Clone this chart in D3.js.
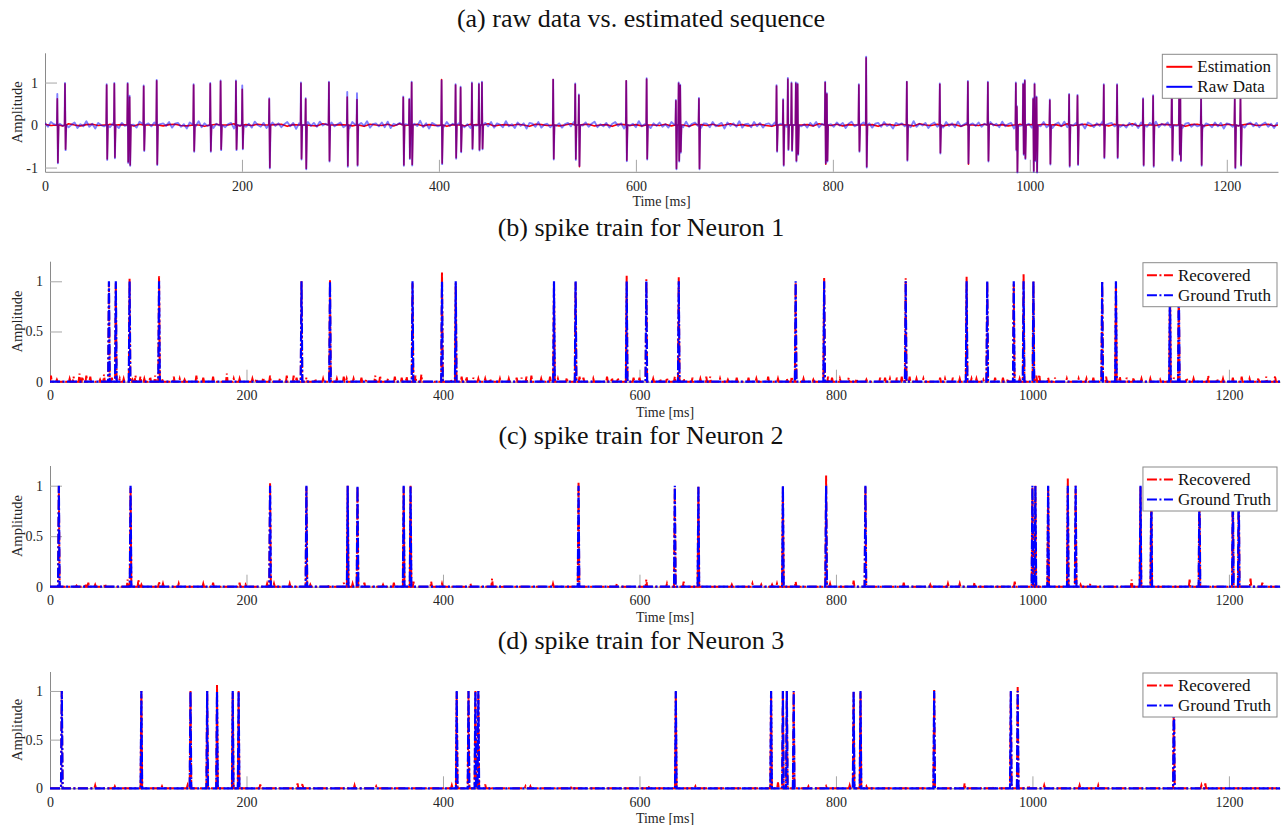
<!DOCTYPE html>
<html>
<head>
<meta charset="utf-8">
<script src="https://cdn.jsdelivr.net/npm/d3@7"></script>
<style>
  body { margin: 0; background: #ffffff; }
  svg text { font-family: "Liberation Serif", "Times New Roman", serif; fill: #262626; }
</style>
</head>
<body>
<svg id="chart" width="1281" height="825"></svg>
<script>
// ---------------- data ----------------
const timeTicks = [0, 200, 400, 600, 800, 1000, 1200];
const traceTicks = [-1, 0, 1];
const trainTicks = [0, 0.5, 1];
const timeSpanMs = [0, 1252];

// (a) spike events in the recorded trace: time [ms], positive peak, negative trough
const aSpikeTimes = [12.5,20.3,62.6,70.4,83.9,85.9,100.2,113.4,150.9,167.8,178.3,193.9,200.3,227.7,259.9,264.7,288.3,306.9,316.8,363.8,369.9,372.3,402.7,416.9,422,433.5,440.6,443.7,516,538.4,542.1,590.2,610.9,640.6,643.4,645,664,742.8,749.5,754.3,758,762.4,764.2,792.2,793.9,826.4,833.8,875.1,908.6,937.1,957.4,985.8,986.8,993.2,994.9,1003.4,1004.8,1006.8,1020.3,1039.9,1048.4,1075.1,1088.6,1115,1125.2,1144.2,1151.7,1152.8,1173.9,1208.1,1213.9];
const rawPeaks = [0.73,0.99,0.96,0.99,0.99,0.69,0.93,1.06,0.96,0.99,1.05,1.05,0.93,0.63,1.0,0.63,1.02,0.78,0.75,0.67,0.62,1.02,1.05,0.96,0.9,1.0,0.98,1.02,1.07,0.98,0.72,1.04,1.1,0.59,1.0,0.95,0.64,0.94,0.61,1.11,1.0,1.0,0.98,1.02,0.75,0.96,1.61,1.02,0.98,1.04,1.02,1.0,0.45,0.98,1.06,0.63,0.98,0.67,0.6,0.73,0.71,0.96,0.96,0.63,0.7,1.0,0.98,1.0,0.63,0.63,0.67];
const rawTroughs = [-0.90,-0.59,-0.82,-0.78,-0.89,-0.96,-0.61,-0.94,-0.63,-0.63,-0.59,-0.59,-0.57,-1.02,-0.81,-1.04,-0.86,-0.98,-0.96,-0.96,-0.80,-0.95,-0.92,-0.79,-0.64,-0.57,-0.60,-0.57,-0.81,-0.82,-0.96,-0.85,-0.81,-1.04,-0.86,-0.65,-1.04,-0.63,-0.96,-0.59,-0.61,-0.86,-0.70,-0.90,-0.86,-0.63,-1.00,-0.84,-0.67,-0.90,-0.86,-0.60,-1.12,-0.70,-0.80,-1.10,-0.85,-1.12,-0.93,-0.98,-0.94,-0.78,-0.78,-0.96,-0.98,-0.84,-0.70,-0.85,-0.96,-1.02,-0.96];
const estPeaks = [0.62,0.97,0.94,0.97,0.97,0.66,0.91,1.04,0.94,0.97,1.03,1.03,0.84,0.61,0.98,0.61,1.0,0.66,0.60,0.65,0.60,1.0,1.07,0.94,0.88,0.98,0.96,1.0,1.07,0.96,0.70,1.04,1.08,0.57,0.98,0.93,0.62,0.92,0.59,1.08,0.98,0.98,0.96,1.0,0.73,0.94,1.58,1.02,0.96,1.02,1.0,0.98,0.43,0.96,1.04,0.61,0.96,0.65,0.58,0.71,0.69,0.94,0.94,0.61,0.68,0.98,0.96,0.98,0.61,0.61,0.65];
const estTroughs = [-0.88,-0.57,-0.80,-0.76,-0.87,-0.94,-0.59,-0.92,-0.61,-0.61,-0.57,-0.57,-0.55,-1.0,-0.79,-1.02,-0.84,-0.96,-0.94,-0.94,-0.78,-0.93,-0.90,-0.77,-0.62,-0.55,-0.58,-0.55,-0.79,-0.80,-0.98,-0.83,-0.79,-1.02,-0.84,-0.63,-1.02,-0.61,-0.94,-0.57,-0.59,-0.84,-0.68,-0.92,-0.84,-0.61,-0.98,-0.82,-0.65,-0.92,-0.84,-0.58,-1.10,-0.68,-0.78,-1.08,-0.83,-1.10,-0.91,-0.96,-0.92,-0.76,-0.76,-0.94,-0.96,-0.82,-0.68,-0.83,-0.94,-1.0,-0.94];

// (a) background activity between spikes, one sample every rawStepMs / estStepMs
const rawStepMs = 3;
const rawNoise = [
  0.05,-0.04,0.07,0.02,-0.06,0.03,-0.02,0.08,-0.05,0.01, 0.06,-0.07,0.02,-0.03,0.09,-0.04,0.03,-0.08,0.05,0.00,
  -0.03,0.06,-0.05,0.04,0.02,-0.07,0.05,-0.02,0.07,-0.04, 0.01,-0.06,0.08,0.03,-0.05,0.04,-0.03,0.06,-0.09,0.02,
  0.04,-0.02,0.07,-0.06,0.03,0.05,-0.04,0.02,-0.08,0.06, 0.01,-0.03,0.09,-0.05,0.04,-0.02,0.06,-0.07,0.03,-0.01,
  0.07,-0.05,0.02,0.05,-0.08,0.04,-0.01,0.06,-0.04,0.03, -0.06,0.08,0.00,-0.04,0.05,-0.07,0.03,0.06,-0.02,0.04,
  -0.05,0.02,0.07,-0.03,0.05,-0.09,0.04,0.01,-0.06,0.07, -0.02,0.05,-0.04,0.08,-0.01,0.03,-0.07,0.06,-0.03,0.02,
  0.06,-0.05,0.03,-0.08,0.07,0.01,-0.04,0.05,-0.02,0.09, -0.06,0.02,0.04,-0.03,0.06,-0.05,0.08,-0.07,0.03,0.00,
  0.05,-0.04,0.02,0.07,-0.06,0.03,-0.02,0.10,-0.05,0.04, -0.08,0.05,0.01,-0.03,0.06,-0.04,0.07,-0.02,0.03,-0.06,
  0.04,0.08,-0.05,0.02,-0.07,0.06,-0.01,0.03,-0.04,0.05, -0.03,0.07,-0.06,0.04,0.01,-0.05,0.09,-0.03,0.02,-0.07,
  0.06,-0.02,0.04,-0.08,0.05,0.03,-0.04,0.07,-0.06,0.01, 0.03,-0.05,0.08,-0.02,0.04,-0.06,0.02,0.05,-0.03,0.07,
  -0.07,0.04,-0.01,0.06,-0.04,0.03,0.08,-0.05,0.02,-0.03, 0.05,-0.06,0.03,0.07,-0.02,0.04,-0.08,0.06,-0.01,0.03,
  -0.05,0.09,-0.03,0.02,0.05,-0.07,0.04,-0.02,0.06,-0.04, 0.02,-0.06,0.07,0.01,-0.03,0.05,-0.05,0.08,-0.04,0.03,
  0.06,-0.02,-0.07,0.04,0.03,-0.05,0.07,-0.03,0.01,0.05, -0.08,0.06,-0.02,0.04,-0.04,0.09,-0.06,0.02,0.03,-0.05,
  0.07,-0.03,0.05,-0.06,0.02,0.04,-0.02,0.06,-0.07,0.03, 0.01,-0.04,0.08,-0.05,0.03,0.06,-0.03,0.02,-0.06,0.05,
  -0.02,0.07,-0.05,0.03,-0.08,0.04,0.02,-0.04,0.06,-0.01, 0.05,-0.07,0.03,0.08,-0.03,0.01,-0.05,0.06,-0.02,0.04,
  -0.06,0.03,0.05,-0.04,0.07,-0.02,0.02,-0.08,0.05,0.01, 0.04,-0.03,0.06,-0.05,0.09,-0.04,0.03,-0.01,0.05,-0.07,
  0.02,0.06,-0.04,0.03,-0.06,0.07,-0.02,0.04,-0.05,0.08, -0.03,0.01,0.05,-0.07,0.04,-0.02,0.06,-0.04,0.03,-0.06,
  0.07,-0.01,0.03,-0.05,0.08,-0.03,0.02,0.05,-0.08,0.04, -0.02,0.06,-0.04,0.03,-0.06,0.05,0.01,-0.03,0.07,-0.05,
  0.04,-0.07,0.02,0.06,-0.03,0.08,-0.05,0.03,-0.01,0.05, -0.04,0.03,-0.08,0.06,0.02,-0.05,0.04,-0.02,0.09,-0.06,
  0.03,0.05,-0.03,0.07,-0.04,0.01,-0.06,0.05,-0.02,0.04, -0.07,0.06,0.02,-0.04,0.05,-0.03,0.08,-0.05,0.03,-0.01,
  0.06,-0.05,0.04,-0.02,0.07,-0.07,0.03,0.05,-0.04,0.02, -0.03,0.08,-0.06,0.04,0.01,-0.05,0.06,-0.03,0.05,-0.08,
  0.04,0.02,-0.04,0.07,-0.02,0.05,-0.06,0.03,0.06,-0.03, 0.05,-0.05,0.02,0.06,-0.04,0.03,-0.07,0.05,-0.01,0.04
];
const estStepMs = 6;
const estNoise = [
  0.02,-0.01,0.01,-0.02,0.03,0.00,-0.02,0.01,0.02,-0.01, 0.00,0.02,-0.03,0.01,0.01,-0.02,0.02,-0.01,0.00,0.03,
  -0.02,0.01,0.02,-0.01,-0.02,0.02,0.00,-0.03,0.01,0.02, -0.01,0.00,0.03,-0.02,0.01,-0.01,0.02,0.00,-0.02,0.01,
  0.02,-0.03,0.01,0.00,0.02,-0.01,-0.02,0.03,-0.01,0.00, 0.01,0.02,-0.02,0.01,-0.03,0.02,0.00,-0.01,0.02,-0.02,
  0.03,-0.01,0.00,0.02,-0.02,0.01,-0.01,0.02,-0.03,0.01, 0.00,-0.02,0.02,0.01,-0.01,0.03,-0.02,0.00,0.01,-0.01,
  0.02,0.00,-0.03,0.02,0.01,-0.01,0.02,-0.02,0.00,0.03, -0.01,0.01,0.02,-0.02,0.00,0.01,-0.03,0.02,0.01,-0.01,
  0.01,-0.02,0.03,0.00,-0.01,0.02,-0.02,0.01,0.00,-0.03, 0.02,0.01,-0.01,0.02,-0.02,0.00,0.03,-0.01,0.01,-0.02,
  0.00,0.02,-0.01,-0.03,0.02,0.01,-0.02,0.02,0.00,0.01, -0.02,0.03,0.00,-0.01,0.02,-0.02,0.01,0.00,0.02,-0.01,
  0.01,-0.03,0.02,0.01,-0.01,0.02,0.00,-0.02,0.03,0.00, -0.01,0.02,-0.02,0.01,0.01,-0.03,0.02,0.00,-0.01,0.02,
  0.03,-0.01,0.01,-0.02,0.00,0.02,-0.01,0.01,-0.03,0.02, 0.00,0.01,-0.02,0.03,-0.01,0.00,0.02,-0.02,0.01,0.01,
  -0.02,0.02,0.00,-0.01,0.03,-0.02,0.01,0.00,-0.01,0.02, 0.01,-0.01,0.02,-0.03,0.01,0.02,-0.02,0.00,0.01,-0.01,
  0.02,0.00,-0.02,0.01,0.03,-0.01,0.00,0.02,-0.02,0.01
];

// (b)-(d) spike trains: ground-truth firing times [ms], recovered amplitudes,
// and small spurious recovered values [time, amplitude]
const truthAmplitude = 1;

const n1Times = [60,67,81,111,256,285,369,399,413,513,535,587,607,640,759,788,871,933,954,981,991,1001,1071,1085,1140,1149];
const n1Recovered = [0.99,0.99,1.03,1.05,1.0,1.02,0.98,1.10,0.98,0.99,0.99,1.06,1.02,1.04,0.99,1.04,1.03,1.05,1.0,0.97,1.08,1.0,0.99,0.99,1.0,1.0];
const n1Residual = [[1,0.06],[7,0.02],[14,0.01],[20,0.03],[24,0.05],[30,0.08],[33,0.05],[37,0.06],[41,0.05],[51,0.02],[55,0.07],[63,0.04],[71,0.03],[75,0.03],[84,0.02],[87,0.06],[92,0.05],[96,0.03],[102,0.05],[107,0.06],[114,0.03],[126,0.05],[132,0.03],[137,0.02],[149,0.06],[156,0.04],[166,0.05],[180,0.08],[187,0.03],[193,0.03],[206,0.03],[210,0.03],[217,0.04],[224,0.06],[234,0.03],[241,0.06],[248,0.06],[251,0.04],[261,0.04],[270,0.03],[278,0.03],[292,0.03],[299,0.05],[302,0.03],[309,0.03],[317,0.04],[322,0.02],[331,0.06],[336,0.06],[344,0.03],[351,0.05],[358,0.04],[363,0.05],[372,0.06],[378,0.07],[390,0.01],[408,0.02],[419,0.05],[424,0.05],[431,0.04],[436,0.03],[443,0.03],[448,0.03],[458,0.03],[467,0.03],[475,0.04],[480,0.04],[485,0.05],[490,0.06],[500,0.03],[509,0.05],[517,0.03],[526,0.04],[539,0.05],[543,0.04],[553,0.03],[567,0.05],[572,0.04],[578,0.04],[594,0.04],[600,0.04],[614,0.03],[621,0.03],[628,0.04],[636,0.05],[645,0.03],[654,0.04],[662,0.03],[668,0.05],[672,0.05],[682,0.03],[690,0.02],[699,0.04],[711,0.04],[719,0.03],[731,0.05],[741,0.03],[750,0.03],[755,0.05],[767,0.03],[777,0.02],[792,0.05],[796,0.04],[804,0.03],[813,0.04],[821,0.03],[831,0.02],[845,0.04],[850,0.04],[855,0.03],[862,0.04],[867,0.05],[875,0.05],[882,0.03],[889,0.03],[906,0.04],[911,0.03],[919,0.04],[926,0.03],[938,0.03],[943,0.03],[950,0.02],[962,0.04],[970,0.04],[975,0.03],[987,0.03],[1004,0.06],[1007,0.07],[1016,0.04],[1023,0.04],[1035,0.03],[1047,0.03],[1055,0.03],[1062,0.04],[1075,0.05],[1089,0.05],[1096,0.04],[1103,0.04],[1111,0.03],[1120,0.03],[1130,0.02],[1144,0.04],[1157,0.04],[1164,0.03],[1179,0.06],[1188,0.03],[1194,0.03],[1204,0.04],[1213,0.05],[1221,0.03],[1230,0.04],[1238,0.05],[1247,0.06]];

const n2Times = [9,82,224,261,303,313,360,367,538,636,660,746,790,830,1000,1003,1016,1036,1044,1110,1121,1170,1204,1210];
const n2Recovered = [0.99,0.98,1.03,0.99,1.0,0.99,0.99,1.0,1.04,0.98,0.99,0.99,1.10,0.99,0.98,1.0,0.99,1.07,1.0,0.99,1.0,1.0,1.0,1.0];
const n2Residual = [[27,0.01],[36,0.03],[39,0.04],[46,0.02],[56,0.03],[79,0.07],[90,0.07],[93,0.02],[111,0.05],[115,0.03],[131,0.03],[156,0.03],[166,0.04],[193,0.04],[199,0.02],[221,0.03],[228,0.03],[244,0.03],[265,0.02],[284,0.02],[299,0.04],[308,0.03],[320,0.04],[339,0.02],[350,0.04],[370,0.05],[388,0.05],[399,0.03],[428,0.03],[450,0.08],[460,0.02],[512,0.03],[569,0.02],[577,0.03],[607,0.07],[628,0.03],[645,0.05],[694,0.02],[715,0.03],[724,0.02],[735,0.02],[740,0.03],[759,0.05],[794,0.03],[818,0.06],[869,0.04],[896,0.02],[914,0.03],[926,0.03],[941,0.04],[982,0.05],[1049,0.02],[1059,0.03],[1101,0.07],[1160,0.07],[1222,0.08],[1234,0.04]];

const n3Times = [12,93,143,160,170,186,192,414,426,433,436,637,734,746,750,757,818,825,900,978,985,1144];
const n3Recovered = [1.0,1.0,1.0,1.0,1.06,0.99,1.0,0.99,1.0,1.0,1.0,1.0,0.99,1.0,1.0,1.0,0.99,0.99,1.01,0.99,1.04,1.0];
const n3Residual = [[46,0.03],[66,0.02],[114,0.02],[140,0.03],[214,0.04],[252,0.05],[257,0.05],[310,0.03],[332,0.02],[409,0.03],[443,0.04],[449,0.02],[484,0.02],[489,0.02],[531,0.02],[610,0.02],[657,0.02],[741,0.06],[772,0.02],[790,0.02],[814,0.03],[831,0.02],[931,0.05],[961,0.02],[996,0.03],[1012,0.03],[1048,0.03],[1067,0.03],[1172,0.03],[1176,0.05]];

// ---------------- drawing ----------------
const RED = "#ff0000", BLUE = "#0000ff";
const DASH_DOT = "10,2.5,2,2.5";
const SERIF = '"Liberation Serif","Times New Roman",serif';
const svg = d3.select("#chart");

const panels = [
  { id: "a", title: "(a) raw data vs. estimated sequence", titleY: 27, left: 45, right: 1278, top: 52.8, bottom: 171.8,
    yDomain: [-1.1, 1.7], yTicks: traceTicks, tickPad: 9.4, xLabelY: 206,
    legend: [{ label: "Estimation", color: RED, dash: null }, { label: "Raw Data", color: BLUE, dash: null }] },
  { id: "b", title: "(b) spike train for Neuron 1", titleY: 235.5, left: 50, right: 1280, top: 261.2, bottom: 381.7,
    yDomain: [0, 1.2], yTicks: trainTicks, tickPad: 8, xLabelY: 417,
    train: { times: n1Times, rec: n1Recovered, residual: n1Residual } },
  { id: "c", title: "(c) spike train for Neuron 2", titleY: 443.5, left: 50, right: 1280, top: 465.5, bottom: 586.7,
    yDomain: [0, 1.2], yTicks: trainTicks, tickPad: 8, xLabelY: 622,
    train: { times: n2Times, rec: n2Recovered, residual: n2Residual } },
  { id: "d", title: "(d) spike train for Neuron 3", titleY: 648.5, left: 50, right: 1280, top: 671.5, bottom: 788.3,
    yDomain: [0, 1.2], yTicks: trainTicks, tickPad: 8.4, xLabelY: 822.5,
    train: { times: n3Times, rec: n3Recovered, residual: n3Residual } }
];
const trainLegend = [{ label: "Recovered", color: RED, dash: DASH_DOT }, { label: "Ground Truth", color: BLUE, dash: DASH_DOT }];

// trace with biphasic spikes laid over sampled background activity
function traceWithSpikes(noise, step, times, peaks, troughs) {
  const pts = [];
  noise.forEach((v, i) => {
    const t = i * step;
    if (!times.some(s => t > s - 1 && t < s + 2)) pts.push([t, v]);
  });
  times.forEach((s, i) => {
    pts.push([s - 0.4, 0], [s, peaks[i]], [s + 0.6, troughs[i]], [s + 1.3, 0]);
  });
  return pts.sort((p, q) => p[0] - q[0]);
}

// sampled spike train: zero baseline with one-sample impulses
function impulseTrain(events) {
  const ev = events.slice().sort((p, q) => p[0] - q[0]);
  const pts = [[timeSpanMs[0], 0]];
  ev.forEach(([t, v]) => pts.push([t - 0.8, 0], [t, v], [t + 0.8, 0]));
  pts.push([timeSpanMs[1], 0]);
  return pts;
}

panels.forEach(p => {
  const x = d3.scaleLinear().domain(timeSpanMs).range([p.left, p.right]);
  const y = d3.scaleLinear().domain(p.yDomain).range([p.bottom, p.top]);
  const g = svg.append("g");

  // title
  g.append("text").attr("x", 641).attr("y", p.titleY).attr("text-anchor", "middle")
    .style("font-size", "26px").style("fill", "#111").text(p.title);

  // axes
  const xAxis = d3.axisBottom(x).tickValues(timeTicks).tickSizeInner(-12).tickSizeOuter(0)
    .tickPadding(p.tickPad).tickFormat(d => String(d));
  const yAxis = d3.axisLeft(y).tickValues(p.yTicks).tickSizeInner(-12).tickSizeOuter(0)
    .tickPadding(7).tickFormat(d => String(d));
  const gx = g.append("g").attr("transform", `translate(0,${p.bottom})`).call(xAxis);
  const gy = g.append("g").attr("transform", `translate(${p.left},0)`).call(yAxis);
  [gx, gy].forEach(ax => {
    ax.attr("font-family", SERIF);
    ax.select(".domain").attr("stroke", "#8a8a8a").attr("stroke-width", 1);
    ax.selectAll(".tick line").attr("stroke", "#a6a6a6").attr("stroke-width", 1);
    ax.selectAll(".tick text").style("font-size", "14px").style("fill", "#262626").style("font-family", SERIF);
  });

  // axis labels
  g.append("text").attr("x", (p.left + p.right) / 2).attr("y", p.xLabelY).attr("text-anchor", "middle")
    .style("font-size", "14px").text("Time [ms]");
  g.append("text").attr("transform", `translate(22,${(p.top + p.bottom) / 2}) rotate(-90)`)
    .attr("text-anchor", "middle").style("font-size", "14.5px").text("Amplitude");

  // plot clip
  const clipId = "clip-" + p.id;
  svg.append("clipPath").attr("id", clipId).append("rect")
    .attr("x", p.left).attr("y", p.top - 2).attr("width", p.right - p.left).attr("height", p.bottom - p.top + 4);
  const plot = g.append("g").attr("clip-path", `url(#${clipId})`);
  const line = d3.line().x(d => x(d[0])).y(d => y(d[1]));

  if (p.id === "a") {
    const est = traceWithSpikes(estNoise, estStepMs, aSpikeTimes, estPeaks, estTroughs);
    const raw = traceWithSpikes(rawNoise, rawStepMs, aSpikeTimes, rawPeaks, rawTroughs);
    plot.append("path").datum(est).attr("d", line).attr("fill", "none")
      .attr("stroke", RED).attr("stroke-width", 1.6).attr("stroke-linejoin", "round");
    plot.append("path").datum(raw).attr("d", line).attr("fill", "none")
      .attr("stroke", BLUE).attr("stroke-opacity", 0.5).attr("stroke-width", 1.9).attr("stroke-linejoin", "round");
  } else {
    const tr = p.train;
    const recovered = impulseTrain(tr.times.map((t, i) => [t, tr.rec[i]]).concat(tr.residual));
    const truth = impulseTrain(tr.times.map(t => [t, truthAmplitude]));
    plot.append("path").datum(recovered).attr("d", line).attr("fill", "none")
      .attr("stroke", RED).attr("stroke-width", 2).attr("stroke-dasharray", DASH_DOT);
    plot.append("path").datum(truth).attr("d", line).attr("fill", "none")
      .attr("stroke", BLUE).attr("stroke-width", 2.2).attr("stroke-dasharray", DASH_DOT);
  }

  // legend box in the upper right corner
  const entries = p.legend || trainLegend;
  const lg = g.append("g");
  const texts = entries.map(e => lg.append("text").attr("y", 0).style("font-size", "17px").style("fill", "#111").text(e.label));
  const maxW = d3.max(texts, t => t.node().getComputedTextLength());
  const boxW = 4 + 26 + 5 + maxW + 6, boxH = 44;
  const bx = 1277 - boxW, by = p.top + 1.5;
  lg.insert("rect", "text").attr("x", bx).attr("y", by).attr("width", boxW).attr("height", boxH)
    .attr("fill", "#fff").attr("stroke", "#8a8a8a").attr("stroke-width", 1);
  entries.forEach((e, i) => {
    const cy = by + 12.5 + i * 20;
    lg.append("line").attr("x1", bx + 4).attr("x2", bx + 30).attr("y1", cy).attr("y2", cy)
      .attr("stroke", e.color).attr("stroke-width", 2).attr("stroke-dasharray", e.dash);
    texts[i].attr("x", bx + 35).attr("y", cy + 5.5);
  });
});
</script>
</body>
</html>
